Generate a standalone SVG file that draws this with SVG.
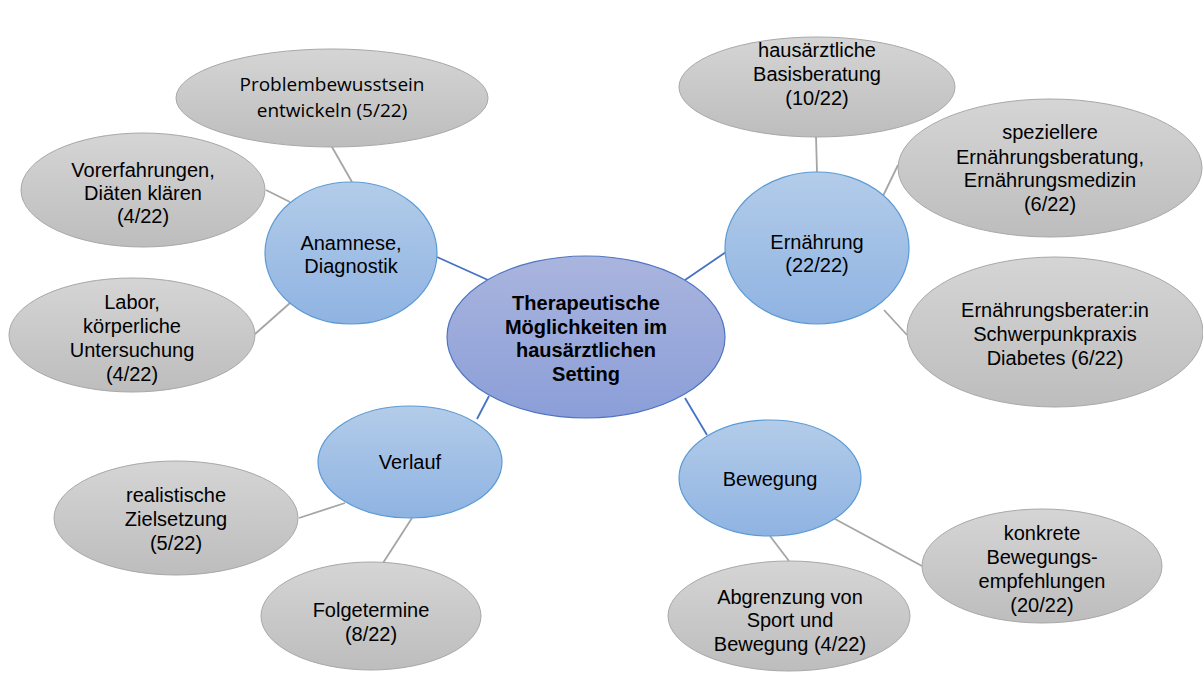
<svg xmlns="http://www.w3.org/2000/svg" width="1203" height="673" viewBox="0 0 1203 673">
  <defs>
    <linearGradient id="gCenter" x1="0" y1="0" x2="0" y2="1">
      <stop offset="0" stop-color="#aab5de"/>
      <stop offset="1" stop-color="#8b9ed8"/>
    </linearGradient>
    <linearGradient id="gTopic" x1="0" y1="0" x2="0" y2="1">
      <stop offset="0" stop-color="#b3cce9"/>
      <stop offset="1" stop-color="#8fb3e2"/>
    </linearGradient>
    <linearGradient id="gLeaf" x1="0" y1="0" x2="0" y2="1">
      <stop offset="0" stop-color="#d5d5d5"/>
      <stop offset="1" stop-color="#bdbdbd"/>
    </linearGradient>
  </defs>
  <style>
    .center { fill: url(#gCenter); stroke: #4f74c2; stroke-width: 1.2; }
    .topic { fill: url(#gTopic); stroke: #5b9bd5; stroke-width: 1.2; }
    .leaf { fill: url(#gLeaf); stroke: #a8a8a8; stroke-width: 1; }
    .main { stroke: #4472c4; stroke-width: 1.8; fill: none; }
    .sub { stroke: #a5a5a5; stroke-width: 1.8; fill: none; }
    text { font-family: "Liberation Sans", Arial, sans-serif; font-size: 20px; fill: #000; text-anchor: middle; }
    .bold { font-weight: bold; }
    .alt { font-family: "Open Sans", "Liberation Sans", sans-serif; font-size: 19px; }
  </style>

  <g id="connectors">
    <line class="main" x1="437" y1="257" x2="488" y2="280"/>
    <line class="main" x1="685" y1="280" x2="726" y2="252"/>
    <line class="main" x1="489" y1="396" x2="477" y2="419"/>
    <line class="main" x1="685" y1="398" x2="707" y2="435"/>
    <line class="sub" x1="332" y1="147" x2="352" y2="182"/>
    <line class="sub" x1="266" y1="190" x2="290" y2="202"/>
    <line class="sub" x1="255" y1="334" x2="290" y2="303"/>
    <line class="sub" x1="816" y1="136" x2="817" y2="172"/>
    <line class="sub" x1="898" y1="165" x2="883" y2="196"/>
    <line class="sub" x1="907" y1="335" x2="884" y2="310"/>
    <line class="sub" x1="922" y1="566" x2="835" y2="519"/>
    <line class="sub" x1="789" y1="561" x2="770" y2="536"/>
    <line class="sub" x1="299" y1="518" x2="345" y2="503"/>
    <line class="sub" x1="383" y1="563" x2="412" y2="518"/>
  </g>

  <g id="center">
    <ellipse class="center" cx="586" cy="337" rx="139" ry="81"/>
    <text class="bold" x="586" y="310">Therapeutische</text>
    <text class="bold" x="586" y="334">Möglichkeiten im</text>
    <text class="bold" x="586" y="357">hausärztlichen</text>
    <text class="bold" x="586" y="381">Setting</text>
  </g>

  <g id="anamnese">
    <ellipse class="topic" cx="351" cy="253" rx="86" ry="71"/>
    <text x="351" y="250">Anamnese,</text>
    <text x="351" y="273">Diagnostik</text>
  </g>

  <g id="ernaehrung">
    <ellipse class="topic" cx="817" cy="248" rx="92" ry="76"/>
    <text x="817" y="249">Ernährung</text>
    <text x="817" y="272">(22/22)</text>
  </g>

  <g id="verlauf">
    <ellipse class="topic" cx="410" cy="462" rx="92" ry="56"/>
    <text x="410" y="469">Verlauf</text>
  </g>

  <g id="bewegung">
    <ellipse class="topic" cx="770" cy="478" rx="91" ry="58"/>
    <text x="770" y="486">Bewegung</text>
  </g>

  <g id="problembewusstsein">
    <ellipse class="leaf" cx="332" cy="98" rx="156" ry="49"/>
    <text class="alt" x="332" y="91">Problembewusstsein</text>
    <text class="alt" x="332" y="117">entwickeln (5/22)</text>
  </g>

  <g id="vorerfahrungen">
    <ellipse class="leaf" cx="143" cy="190" rx="122" ry="57"/>
    <text x="143" y="177">Vorerfahrungen,</text>
    <text x="143" y="200">Diäten klären</text>
    <text x="143" y="223">(4/22)</text>
  </g>

  <g id="labor">
    <ellipse class="leaf" cx="132" cy="335" rx="123" ry="57"/>
    <text x="132" y="309">Labor,</text>
    <text x="132" y="333">körperliche</text>
    <text x="132" y="357">Untersuchung</text>
    <text x="132" y="381">(4/22)</text>
  </g>

  <g id="basisberatung">
    <ellipse class="leaf" cx="817" cy="87" rx="138" ry="50"/>
    <text x="817" y="57">hausärztliche</text>
    <text x="817" y="81">Basisberatung</text>
    <text x="817" y="105">(10/22)</text>
  </g>

  <g id="ernaehrungsmedizin">
    <ellipse class="leaf" cx="1050" cy="168" rx="152" ry="69"/>
    <text x="1050" y="139">speziellere</text>
    <text x="1050" y="164">Ernährungsberatung,</text>
    <text x="1050" y="187">Ernährungsmedizin</text>
    <text x="1050" y="211">(6/22)</text>
  </g>

  <g id="ernaehrungsberater">
    <ellipse class="leaf" cx="1055" cy="332" rx="148" ry="75"/>
    <text x="1055" y="317">Ernährungsberater:in</text>
    <text x="1055" y="341">Schwerpunkpraxis</text>
    <text x="1055" y="365">Diabetes (6/22)</text>
  </g>

  <g id="bewegungsempfehlungen">
    <ellipse class="leaf" cx="1042" cy="566" rx="120" ry="57"/>
    <text x="1042" y="540">konkrete</text>
    <text x="1042" y="564">Bewegungs-</text>
    <text x="1042" y="588">empfehlungen</text>
    <text x="1042" y="612">(20/22)</text>
  </g>

  <g id="abgrenzung">
    <ellipse class="leaf" cx="789" cy="616" rx="121" ry="55"/>
    <text x="790" y="604">Abgrenzung von</text>
    <text x="790" y="627">Sport und</text>
    <text x="790" y="651">Bewegung (4/22)</text>
  </g>

  <g id="zielsetzung">
    <ellipse class="leaf" cx="176" cy="518" rx="122" ry="57"/>
    <text x="176" y="502">realistische</text>
    <text x="176" y="526">Zielsetzung</text>
    <text x="176" y="550">(5/22)</text>
  </g>

  <g id="folgetermine">
    <ellipse class="leaf" cx="371" cy="616" rx="110" ry="54"/>
    <text x="371" y="617">Folgetermine</text>
    <text x="371" y="641">(8/22)</text>
  </g>
</svg>
